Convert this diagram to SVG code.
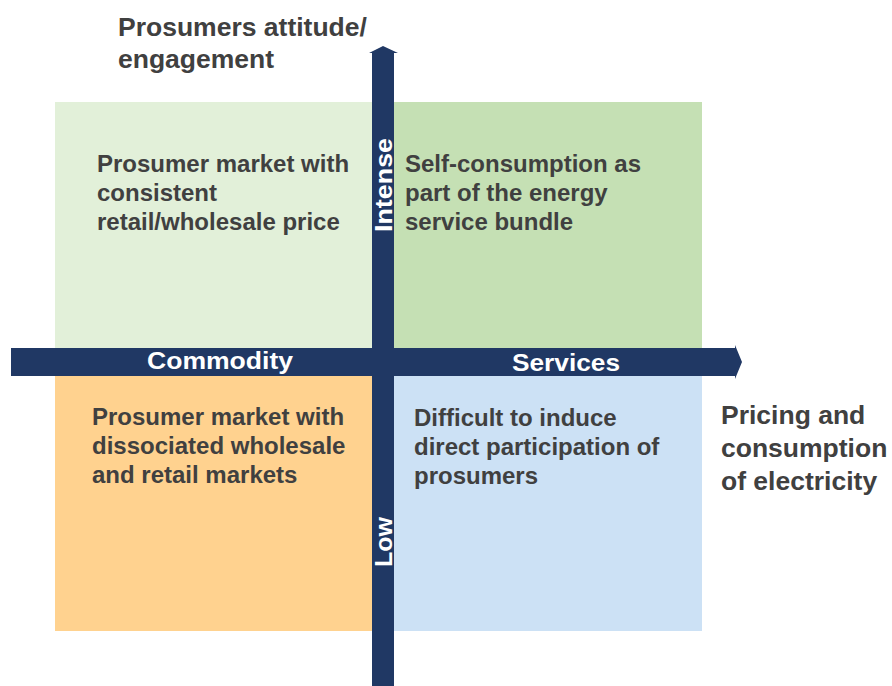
<svg xmlns="http://www.w3.org/2000/svg" width="892" height="686" viewBox="0 0 892 686">
<style>
.t{font-family:"Liberation Sans",Arial,sans-serif;font-weight:bold;font-size:24px;fill:#404040}
.h{font-family:"Liberation Sans",Arial,sans-serif;font-weight:bold;font-size:26.5px;fill:#404040}
.w{font-family:"Liberation Sans",Arial,sans-serif;font-weight:bold;font-size:24px;fill:#ffffff}
.bar{fill:#203864}
</style>
<rect width="892" height="686" fill="#ffffff"/>
<g id="q-top-left"><rect x="55" y="102" width="330" height="260" fill="#E2F0D9"/>
<text class="t"><tspan x="97" y="172">Prosumer market with</tspan><tspan x="97" y="201">consistent</tspan><tspan x="97" y="230">retail/wholesale price</tspan></text></g>
<g id="q-top-right"><rect x="385" y="102" width="317" height="260" fill="#C5E0B4"/>
<text class="t"><tspan x="405" y="172">Self-consumption as</tspan><tspan x="405" y="201">part of the energy</tspan><tspan x="405" y="230">service bundle</tspan></text></g>
<g id="q-bottom-left"><rect x="55" y="362" width="330" height="269" fill="#FFD28F"/>
<text class="t"><tspan x="92" y="425">Prosumer market with</tspan><tspan x="92" y="454">dissociated wholesale</tspan><tspan x="92" y="483">and retail markets</tspan></text></g>
<g id="q-bottom-right"><rect x="385" y="362" width="317" height="269" fill="#CCE1F5"/>
<text class="t"><tspan x="414" y="426">Difficult to induce</tspan><tspan x="414" y="455">direct participation of</tspan><tspan x="414" y="484">prosumers</tspan></text></g>
<g id="connectors">
<polygon class="bar" points="372,686 372,53 369,53 383,46 398,53 394,53 394,686"/>
<polygon class="bar" points="11,348 735,348 735,345 742,362 735,379 735,376 11,376"/>
</g>
<g id="axis-labels">
<text class="w" x="220" y="369" text-anchor="middle" textLength="146" lengthAdjust="spacingAndGlyphs">Commodity</text>
<text class="w" x="566" y="371" text-anchor="middle" textLength="108" lengthAdjust="spacingAndGlyphs">Services</text>
<text class="w" transform="translate(392,185) rotate(-90)" text-anchor="middle" textLength="94" lengthAdjust="spacingAndGlyphs">Intense</text>
<text class="w" transform="translate(392,542) rotate(-90)" text-anchor="middle" textLength="50" lengthAdjust="spacingAndGlyphs">Low</text>
</g>
<g id="title-y"><text class="h"><tspan x="118" y="36">Prosumers attitude/</tspan><tspan x="118" y="68">engagement</tspan></text></g>
<g id="title-x"><text class="h"><tspan x="721" y="424">Pricing and</tspan><tspan x="721" y="457">consumption</tspan><tspan x="721" y="490">of electricity</tspan></text></g>
</svg>
